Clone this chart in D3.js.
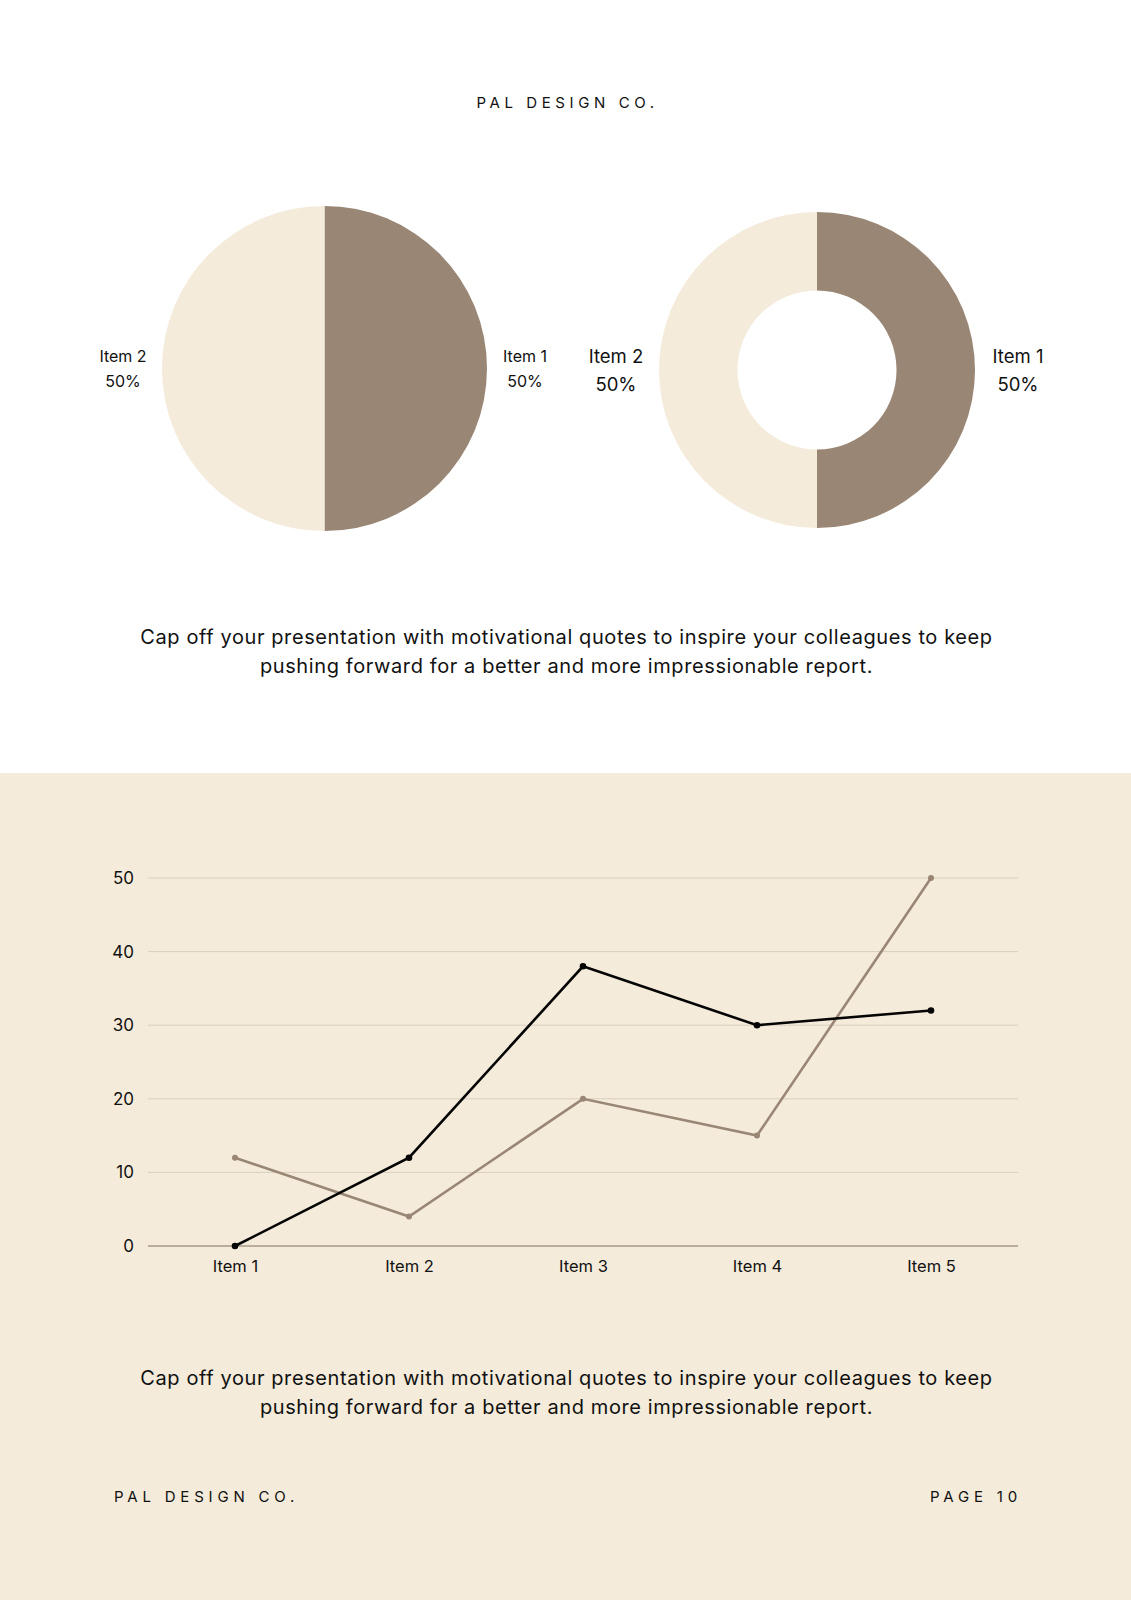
<!DOCTYPE html>
<html>
<head>
<meta charset="utf-8">
<script src="https://cdn.jsdelivr.net/npm/d3@7"></script>
<style>
  body { margin: 0; background: #fff; }
  text { font-family: Inter, "Noto Sans", sans-serif; fill: #111; }
</style>
</head>
<body>
<div id="page"></div>
<script>
// page size
const width = 1131, height = 1600;

// pie / donut data
const pieItems = ["Item 1", "Item 2"];
const pieValues = [50, 50];
const pieColors = ["#998675", "#f4ebda"];

// line chart data
const lineCategories = ["Item 1", "Item 2", "Item 3", "Item 4", "Item 5"];
const seriesBlack = [0, 12, 38, 30, 32];
const seriesBrown = [12, 4, 20, 15, 50];
const yTicks = [0, 10, 20, 30, 40, 50];

const quote1 = "Cap off your presentation with motivational quotes to inspire your colleagues to keep";
const quote2 = "pushing forward for a better and more impressionable report.";

let svg = d3.select("#page")
    .append("svg")
    .attr("width", width)
    .attr("height", height);

// backgrounds
svg.append("rect").attr("width", width).attr("height", height).attr("fill", "#fff");
svg.append("rect").attr("x", 0).attr("y", 773).attr("width", width).attr("height", height - 773).attr("fill", "#f4ebda");

// header
svg.append("text")
    .attr("x", width / 2 + 2)
    .attr("y", 108)
    .style("text-anchor", "middle")
    .style("font-size", "15px")
    .style("letter-spacing", "4.6px")
    .text("PAL DESIGN CO.");

// ---- pies ----
let pie = d3.pie().sort(null).value(d => d);
let arcs = pie(pieValues);

function drawPie(cx, cy, outer, inner, fontSize, leftX, rightX, labelY, lineGap) {
    let g = svg.append("g").attr("transform", `translate(${cx},${cy})`);
    let arc = d3.arc().innerRadius(inner).outerRadius(outer);
    g.selectAll("path")
        .data(arcs)
        .enter()
        .append("path")
        .attr("d", arc)
        .attr("fill", (d, i) => pieColors[i]);

    // labels: item 1 on the right, item 2 on the left
    let labelX = [rightX, leftX];
    pieItems.forEach((name, i) => {
        let t = svg.append("text")
            .attr("x", labelX[i])
            .attr("y", labelY)
            .style("text-anchor", "middle")
            .style("font-size", fontSize + "px");
        t.append("tspan").attr("x", labelX[i]).text(name);
        t.append("tspan").attr("x", labelX[i]).attr("dy", lineGap).text(pieValues[i] + "%");
    });
}

drawPie(324.5, 368.5, 162.5, 0, 16, 123, 525, 362, 25);
drawPie(817, 370, 158, 79.5, 18.5, 616, 1018, 363, 28);

// quote under pies
function drawQuote(y) {
    [quote1, quote2].forEach((q, i) => {
        svg.append("text")
            .attr("x", width / 2 + 1)
            .attr("y", y + i * 29)
            .style("text-anchor", "middle")
            .style("font-size", "20px")
            .style("letter-spacing", "0.6px")
            .text(q);
    });
}
drawQuote(644);

// ---- line chart ----
const chart = {left: 148, right: 1018, top: 878, bottom: 1246};

let x = d3.scalePoint()
    .domain(lineCategories)
    .range([chart.left, chart.right])
    .padding(0.5);

let y = d3.scaleLinear()
    .domain([0, 50])
    .range([chart.bottom, chart.top]);

// gridlines
svg.append("g")
    .selectAll("line")
    .data(yTicks)
    .enter()
    .append("line")
    .attr("x1", chart.left)
    .attr("x2", chart.right)
    .attr("y1", d => y(d))
    .attr("y2", d => y(d))
    .attr("stroke", d => d === 0 ? "#a89886" : "#d9cfbf")
    .attr("stroke-width", d => d === 0 ? 1.3 : 1);

// y axis labels
let yAxis = svg.append("g")
    .attr("transform", `translate(${chart.left - 14},0)`)
    .call(d3.axisLeft(y).tickValues(yTicks).tickSize(0).tickPadding(0).tickFormat(d3.format("d")));
yAxis.select(".domain").remove();
yAxis.selectAll("text")
    .style("font-family", "Inter, sans-serif")
    .style("font-size", "17px")
    .attr("fill", "#111");

// x axis labels
let xAxis = svg.append("g")
    .attr("transform", `translate(0,${chart.bottom})`)
    .call(d3.axisBottom(x).tickSize(0).tickPadding(14));
xAxis.select(".domain").remove();
xAxis.selectAll("text")
    .style("font-family", "Inter, sans-serif")
    .style("font-size", "16.5px")
    .attr("fill", "#111");

let line = d3.line()
    .x((d, i) => x(lineCategories[i]))
    .y(d => y(d));

function drawSeries(values, color, r) {
    svg.append("path")
        .datum(values)
        .attr("d", line)
        .attr("fill", "none")
        .attr("stroke", color)
        .attr("stroke-width", 2.6);
    svg.append("g")
        .selectAll("circle")
        .data(values)
        .enter()
        .append("circle")
        .attr("cx", (d, i) => x(lineCategories[i]))
        .attr("cy", d => y(d))
        .attr("r", r)
        .attr("fill", color);
}
drawSeries(seriesBrown, "#998675", 3);
drawSeries(seriesBlack, "#050505", 3.3);

// bottom quote
drawQuote(1385);

// footer
svg.append("text")
    .attr("x", 114)
    .attr("y", 1502)
    .style("font-size", "15px")
    .style("letter-spacing", "4.8px")
    .text("PAL DESIGN CO.");

svg.append("text")
    .attr("x", 1022)
    .attr("y", 1502)
    .style("text-anchor", "end")
    .style("font-size", "15px")
    .style("letter-spacing", "4.8px")
    .text("PAGE 10");
</script>
</body>
</html>
